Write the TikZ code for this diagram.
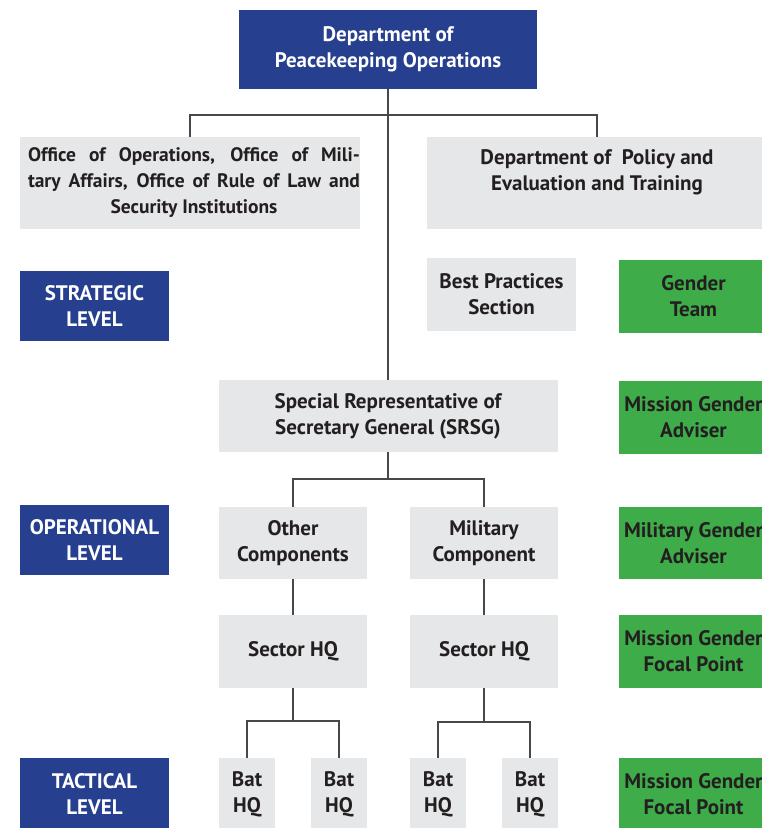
\documentclass[tikz,border=0pt]{standalone}
\usepackage{fontspec}
\setmainfont{PT Sans}
\definecolor{unblue}{RGB}{38,63,142}
\definecolor{ungreen}{RGB}{62,173,73}
\definecolor{ungray}{RGB}{230,231,232}
\definecolor{untext}{RGB}{35,31,32}
\definecolor{unline}{RGB}{72,72,74}
\tikzset{
  base/.style={inner sep=0pt, align=center, font=\bfseries\fontsize{21}{26}\selectfont},
  bluebox/.style={base, fill=unblue, text=white},
  graybox/.style={base, fill=ungray, text=untext},
  greenbox/.style={base, fill=ungreen, text=untext},
  conn/.style={draw=unline, line width=1.8pt},
}
\begin{document}
\begin{tikzpicture}[x=1pt,y=-1pt]
\useasboundingbox (0,0) rectangle (762,828);
\clip (0,0) rectangle (762,828);
% top
\node[bluebox, minimum width=298, minimum height=79] (top) at (388,49.5) {Department of\\Peacekeeping Operations};
\node[graybox, minimum width=340, minimum height=92, font=\bfseries\fontsize{19.5}{26}\selectfont] (offices) at (190,183)
  {\hspace*{8pt}\makebox[332pt][s]{Office of Operations, Office of Mili-}\\\hspace*{8pt}\makebox[332pt][s]{tary Affairs, Office of Rule of Law and}\\\hspace*{8pt}Security Institutions};
\node[graybox, minimum width=340, minimum height=92] (policy) at (597,183) {Department of\ \ Policy and\\Evaluation and Training\\\mbox{}};
% strategic
\node[bluebox, minimum width=149, minimum height=70] (strategic) at (94.5,306) {STRATEGIC\\LEVEL};
\node[graybox, minimum width=149, minimum height=73] (best) at (501.5,294.5) {Best Practices\\Section};
\node[greenbox, minimum width=149, minimum height=73] (gteam) at (693.5,296.5) {Gender\\Team};
% srsg
\node[graybox, minimum width=339, minimum height=72] (srsg) at (388,416) {Special Representative of\\Secretary General (SRSG)};
\node[greenbox, minimum width=149, minimum height=73] (mga) at (693.5,417.5) {Mission Gender\\Adviser};
% operational
\node[bluebox, minimum width=149, minimum height=70] (operational) at (94.5,540) {OPERATIONAL\\LEVEL};
\node[graybox, minimum width=148, minimum height=72] (other) at (293,543) {Other\\Components};
\node[graybox, minimum width=148, minimum height=72] (military) at (484,543) {Military\\Component};
\node[greenbox, minimum width=149, minimum height=72] (milga) at (693.5,543) {Military Gender\\Adviser};
% sector
\node[graybox, minimum width=148, minimum height=73] (sectorl) at (293,651.5) {Sector HQ};
\node[graybox, minimum width=148, minimum height=73] (sectorr) at (484,651.5) {Sector HQ};
\node[greenbox, minimum width=149, minimum height=73] (mgfpa) at (693.5,651.5) {Mission Gender\\Focal Point};
% tactical
\node[bluebox, minimum width=149, minimum height=72] (tactical) at (94.5,794) {TACTICAL\\LEVEL};
\node[graybox, minimum width=56, minimum height=72] (bata) at (247,794) {Bat\\HQ};
\node[graybox, minimum width=56, minimum height=72] (batb) at (339,794) {Bat\\HQ};
\node[graybox, minimum width=56, minimum height=72] (batc) at (438,794) {Bat\\HQ};
\node[graybox, minimum width=56, minimum height=72] (batd) at (530,794) {Bat\\HQ};
\node[greenbox, minimum width=149, minimum height=72] (mgfpb) at (693.5,794) {Mission Gender\\Focal Point};
% connectors
\draw[conn] (top.south) -- (srsg.north);
\draw[conn] (offices.north) -- ++(0,-22) -| (policy.north);
\draw[conn] (srsg.south) -- ++(0,27);
\draw[conn] (other.north) -- ++(0,-28) -| (military.north);
\draw[conn] (other.south) -- (sectorl.north);
\draw[conn] (military.south) -- (sectorr.north);
\draw[conn] (sectorl.south) -- ++(0,33);
\draw[conn] (bata.north) -- ++(0,-37) -| (batb.north);
\draw[conn] (sectorr.south) -- ++(0,34);
\draw[conn] (batc.north) -- ++(0,-36) -| (batd.north);
\end{tikzpicture}
\end{document}
